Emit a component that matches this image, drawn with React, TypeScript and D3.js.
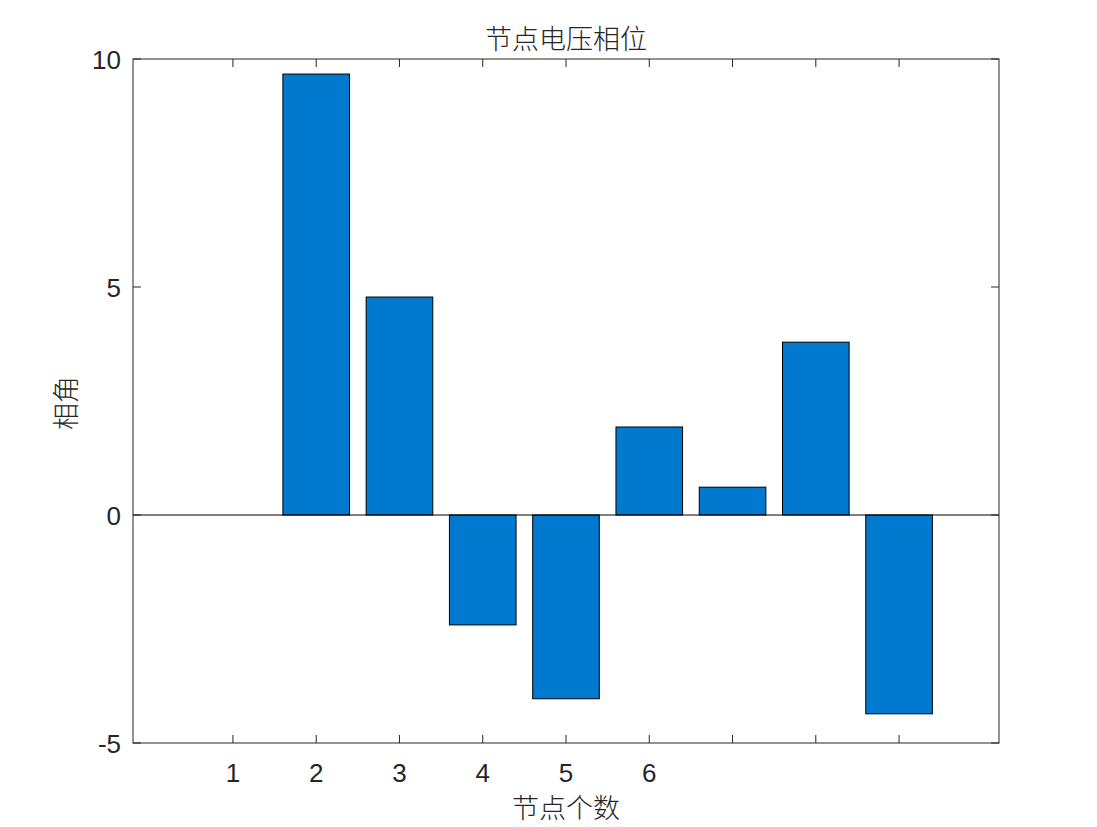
import React from "react";
import * as d3 from "d3";

const nodes = [1, 2, 3, 4, 5, 6, 7, 8, 9];
const angles = [0, 9.67, 4.78, -2.41, -4.03, 1.93, 0.61, 3.79, -4.36];
const xTickLabels = ["1", "2", "3", "4", "5", "6", "", "", ""];
const yTicks = [-5, 0, 5, 10];
const titleText = "节点电压相位";
const xLabelText = "节点个数";
const yLabelText = "相角";

export default function App() {
  const W = 1097, H = 827;
  const left = 133, right = 999, top = 59, bottom = 743;
  const x = d3.scaleLinear().domain([-0.2, 10.2]).range([left, right]);
  const y = d3.scaleLinear().domain([-5, 10]).range([bottom, top]);
  const bw = (x(1) - x(0)) * 0.8;
  const tickLen = 8;
  const font = "'Liberation Sans', Arial, Helvetica, sans-serif";
  const cjk = "'Noto Sans CJK SC', sans-serif";
  return (
    <svg width={W} height={H} style={{ position: "absolute", left: 0, top: 0, background: "#fff" }}>
      <rect x={0} y={0} width={W} height={H} fill="#fff" />
      {nodes.map((n, i) => {
        const v = angles[i];
        const y0 = y(Math.max(0, v));
        const y1 = y(Math.min(0, v));
        return (
          <rect key={n} x={x(n) - bw / 2} y={y0} width={bw} height={Math.max(0, y1 - y0)}
            fill="#0079CF" stroke="#000" strokeWidth={1} />
        );
      })}
      <line x1={left} x2={right} y1={y(0)} y2={y(0)} stroke="#000" strokeWidth={1} />
      <rect x={left} y={top} width={right - left} height={bottom - top} fill="none" stroke="#262626" strokeWidth={1} />
      {nodes.map((n, i) => (
        <g key={"xt" + n}>
          <line x1={x(n)} x2={x(n)} y1={bottom} y2={bottom - tickLen} stroke="#262626" />
          <line x1={x(n)} x2={x(n)} y1={top} y2={top + tickLen} stroke="#262626" />
          <text x={x(n)} y={782} textAnchor="middle" fontFamily={font} fontSize={26} fill="#262626">{xTickLabels[i]}</text>
        </g>
      ))}
      {yTicks.map((t) => (
        <g key={"yt" + t}>
          <line x1={left} x2={left + tickLen} y1={y(t)} y2={y(t)} stroke="#262626" />
          <line x1={right} x2={right - tickLen} y1={y(t)} y2={y(t)} stroke="#262626" />
          <text x={left - 12} y={y(t) + 10} textAnchor="end" fontFamily={font} fontSize={26} fill="#262626">{t}</text>
        </g>
      ))}
      <text x={(left + right) / 2} y={49} textAnchor="middle" fontFamily={cjk} fontWeight={300} fontSize={27} fill="#262626">{titleText}</text>
      <text x={(left + right) / 2} y={818} textAnchor="middle" fontFamily={cjk} fontWeight={300} fontSize={27} fill="#262626">{xLabelText}</text>
      <text transform={`translate(76, ${(top + bottom) / 2 + 2}) rotate(-90)`} textAnchor="middle" fontFamily={cjk} fontWeight={300} fontSize={27} fill="#262626">{yLabelText}</text>
    </svg>
  );
}
